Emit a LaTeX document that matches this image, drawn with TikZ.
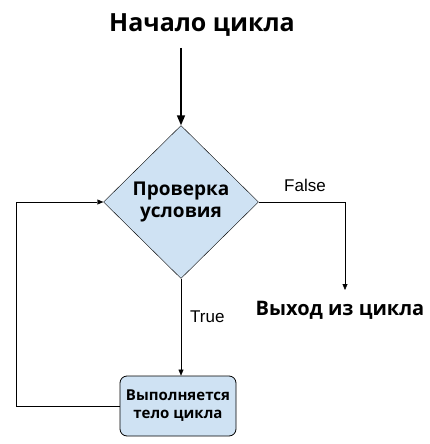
\documentclass[tikz,border=0pt]{standalone}
\usepackage{fontspec}
\setmainfont{Open Sans}
\newfontfamily\labfont{Liberation Sans}
\usetikzlibrary{shapes.geometric,arrows.meta}
\definecolor{boxblue}{HTML}{CFE2F3}

\begin{document}
\begin{tikzpicture}
  [x=1pt,y=-1pt,
   check/.style={diamond,draw,fill=boxblue,minimum width=155pt,minimum height=153pt,inner sep=0pt,align=center,font=\fontsize{19}{24}\selectfont\bfseries},
   body/.style={rectangle,rounded corners=7pt,draw,line width=0.8pt,fill=boxblue,minimum width=116pt,minimum height=60pt,align=center,font=\fontsize{15}{18}\selectfont\bfseries},
   head/.style={anchor=base,inner sep=0pt,font=\fontsize{25}{28}\selectfont\bfseries},
   lab/.style={anchor=base west,inner sep=0pt,font=\fontsize{17}{20}\selectfont\labfont},
   tip/.style={-{Triangle[length=6pt,width=5pt]}}]
  \useasboundingbox (0,0) rectangle (430,444);
  \node[head] (start) at (202,32) {Начало цикла};
  \coordinate (s0) at (181,48);
  \node[check] (n0) at (181,202) {\raisebox{-5pt}{\shortstack[c]{Проверка\\[3pt]условия}}};
  \node[body] (n1) at (178,406) {Выполняется\\тело цикла};
  \node[head,font=\fontsize{20}{22}\selectfont\bfseries] (n2) at (340,315) {Выход из цикла};
  \coordinate (f1) at (345,290);
  \coordinate (c0) at (16,406);
  \node[lab] (t0) at (284,191) {False};
  \node[lab] (t1) at (190,322) {True};

  \draw [line width=1.6pt,-{Triangle[length=10pt,width=8pt]}] (s0) -- (n0.north);
  \draw [tip] (n0.east) -| (f1);
  \draw [tip] (n0.south) -- (n0.south |- n1.north);
  \draw [tip] (n1.west) -- (c0) |- (n0.west);

\end{tikzpicture}
\end{document}
